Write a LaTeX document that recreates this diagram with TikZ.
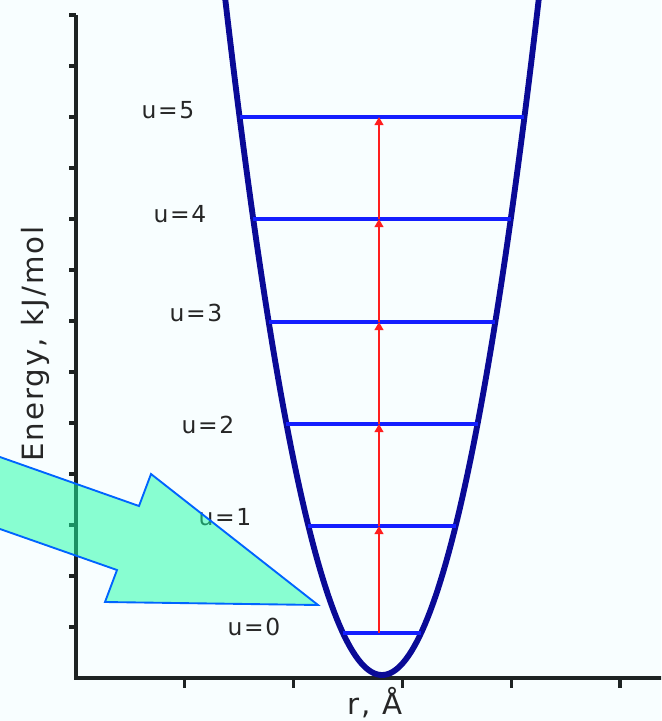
\documentclass[tikz,border=0pt]{standalone}
\usepackage{fontspec}
\setmainfont{DejaVu Sans}[LetterSpace=7]
\usetikzlibrary{arrows.meta}
\definecolor{paper}{RGB}{248,254,255}
\definecolor{axisgray}{RGB}{30,35,35}
\definecolor{wellblue}{RGB}{10,10,150}
\definecolor{levelblue}{RGB}{20,30,255}
\definecolor{jumpred}{RGB}{255,30,30}
\definecolor{hintfill}{RGB}{25,255,165}
\definecolor{hintedge}{RGB}{0,100,255}

\begin{document}
\begin{tikzpicture}[x=0.03cm, y=-0.03cm,
    ax/.style={axisgray, line width=2.6pt},
    well/.style={wellblue, line width=5pt, line join=round},
    lvl/.style={levelblue, line width=2.8pt},
    jump/.style={jumpred, line width=2pt, -{Triangle[length=7pt, width=7.5pt]}},
    lab/.style={anchor=base, text=black!85, font=\fontsize{20}{20}\selectfont},
    axlab/.style={anchor=base, text=black!85, font=\fontsize{25}{25}\selectfont},
    hint/.style={draw=hintedge, line width=1.6pt, fill=hintfill, fill opacity=0.5, line join=miter}
]
\useasboundingbox (0,0) rectangle (661,721);
\clip (0,0) rectangle (661,721);
\fill[paper] (0,0) rectangle (661,721);
% axes
\coordinate (ytop) at (76,15);
\coordinate (O) at (76,678);
\coordinate (xend) at (670,678);
\draw[ax] (ytop) -- (O) -- (xend);
\foreach \k in {0,...,12}
    \draw[ax] (69,{15+51*\k}) -- (76,{15+51*\k});
\foreach \k in {1,...,5}
    \draw[ax] ({76+108.8*\k},678) -- ++(0,10);
\node[axlab, rotate=90] (ylab) at (43,344) {Energy, kJ/mol};
\node[axlab] (xlab) at (375,714) {r, Å};
% potential well
\draw[well] plot[domain=-160:160, samples=121] ({382+\x}, {675-(\x/6.03)^2});
% levels
\foreach \n/\y in {0/633, 1/526, 2/424, 3/322, 4/219, 5/117} {
    \pgfmathsetmacro\w{6.03*sqrt(675-\y)}
    \coordinate (l\n) at ({382-\w},\y);
    \coordinate (r\n) at ({382+\w},\y);
    \coordinate (m\n) at (379,\y);
    \draw[lvl] (l\n) -- (r\n);
}
\foreach \n [evaluate=\n as \k using int(\n+1)] in {0,...,4}
    \draw[jump] (m\n) -- (m\k);
\node[lab] (v5) at (168,118) {u=5};
\node[lab] (v4) at (180,222) {u=4};
\node[lab] (v3) at (196,321) {u=3};
\node[lab] (v2) at (208,433) {u=2};
\node[lab] (v1) at (225,525) {u=1};
\node[lab] (v0) at (254,635) {u=0};
% big hint arrow
\draw[hint] (-10,453.5) -- (139,506) -- (151,474) -- (318,605) -- (105,602) -- (117,570) -- (-10,525.5) -- cycle;
\end{tikzpicture}
\end{document}
